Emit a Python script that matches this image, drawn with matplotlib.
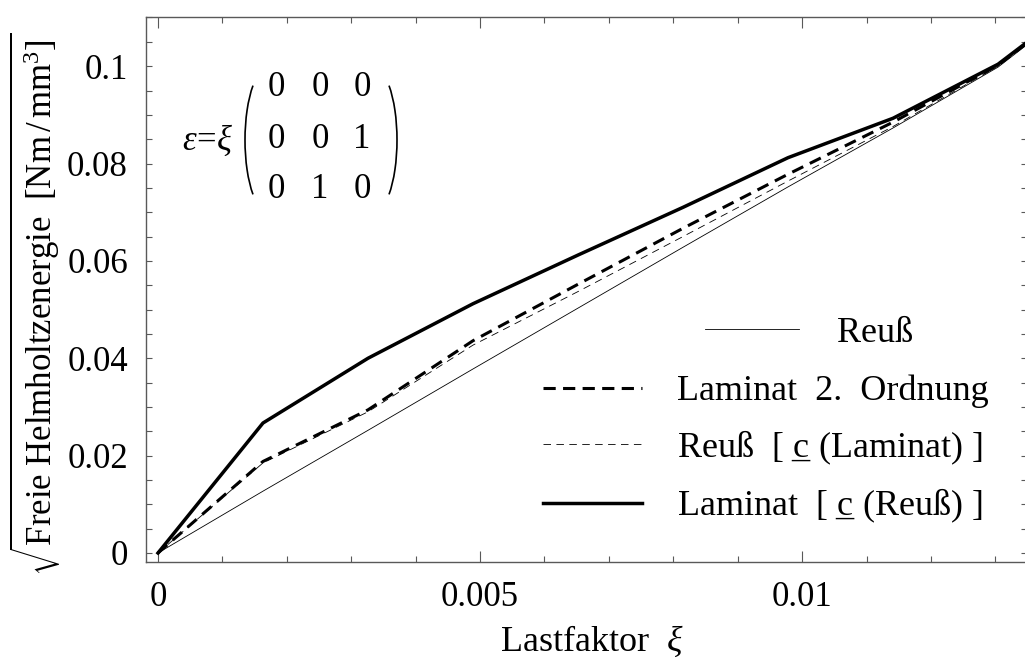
import numpy as np
import matplotlib
matplotlib.use("Agg")
import matplotlib.pyplot as plt
from matplotlib.patches import Arc
from matplotlib.ticker import MultipleLocator

plt.rcParams["font.family"] = ["Liberation Serif", "DejaVu Serif"]
plt.rcParams["mathtext.fontset"] = "custom"
plt.rcParams["mathtext.rm"] = "Liberation Serif"
plt.rcParams["mathtext.it"] = "Liberation Serif:italic"
plt.rcParams["mathtext.bf"] = "Liberation Serif:bold"

# load factor xi and sqrt of free energy
xi = [0, 0.00163, 0.00326, 0.00489, 0.00652, 0.00815, 0.00978, 0.01141, 0.01304, 0.01467]
reuss = [0, 0.0127, 0.0252, 0.0378, 0.0503, 0.0628, 0.0752, 0.0873, 0.0998, 0.1165]
laminat2 = [0, 0.0188, 0.0294, 0.0436, 0.0552, 0.0667, 0.0778, 0.0885, 0.1002, 0.1167]
reuss_c_lam = [0, 0.0185, 0.0290, 0.0427, 0.0537, 0.0650, 0.0764, 0.0876, 0.1000, 0.1166]
laminat_c_reuss = [0, 0.0267, 0.0400, 0.0512, 0.0612, 0.0710, 0.0812, 0.0893, 0.1004, 0.1168]

# underlined c: underscore pulled back under the c
c_ul = r"c$\!\!\!\!$_"
labels = ["Reuß", "Laminat  2.  Ordnung",
          "Reuß  [ " + c_ul + " (Laminat) ]", "Laminat  [ " + c_ul + " (Reuß) ]"]

xticks = [0, 0.005, 0.01]
xticklabels = ["0", "0.005", "0.01"]
yticks = [0, 0.02, 0.04, 0.06, 0.08, 0.1]
yticklabels = ["0", "0.02", "0.04", "0.06", "0.08", "0.1"]

W, H = 1025, 661
fig = plt.figure(figsize=(W / 100, H / 100), dpi=100)
ax = fig.add_axes([146 / W, 99 / H, 881 / W, 545 / H])

l1, = ax.plot(xi, reuss, color="black", lw=0.6)
l2, = ax.plot(xi, laminat2, color="black", lw=2.2, ls=(0, (4, 2.4)))
l3, = ax.plot(xi, reuss_c_lam, color="black", lw=0.6, ls=(0, (9, 6.5)))
l4, = ax.plot(xi, laminat_c_reuss, color="black", lw=2.5)

ax.set_xlim(-0.000186, 0.01349)
ax.set_ylim(-0.00185, 0.1101)

ax.set_xticks(xticks, xticklabels)
ax.set_yticks(yticks, yticklabels)
ax.xaxis.set_minor_locator(MultipleLocator(0.001))
ax.yaxis.set_minor_locator(MultipleLocator(0.005))

ax.tick_params(which="both", direction="in", top=True, right=True,
               color="0.35", width=0.8, labelsize=25)
ax.tick_params(axis="x", which="major", length=8, pad=14)
ax.tick_params(axis="x", which="minor", length=4.5)
ax.tick_params(axis="y", which="both", length=4.5, pad=13)
for s in ax.spines.values():
    s.set_color("0.35")
    s.set_linewidth(1.0)

ax.set_xlabel(r"Lastfaktor  $\xi$", fontsize=26, va="center")
ax.xaxis.set_label_coords(0.506, -0.146)
ax.set_ylabel(r"$\sqrt{\mathrm{Freie\ Helmholtzenergie\ \ [Nm\,/\,mm^3]}}$",
              fontsize=25, va="center")
ax.yaxis.set_label_coords(-0.126, 0.472)

# legend: Reuss entry sits on its own, centred
leg1 = fig.legend([l1], [labels[0]], loc="center left",
                  bbox_to_anchor=(705 / W, 1 - 333 / H), frameon=False,
                  fontsize=26, handlelength=2.6, handletextpad=1.05,
                  borderpad=0, borderaxespad=0)
leg2 = fig.legend([l2, l3, l4], labels[1:], loc="center left",
                  bbox_to_anchor=(543 / W, 1 - 450 / H), frameon=False,
                  fontsize=26, handlelength=2.75, handletextpad=0.95,
                  labelspacing=0.56, borderpad=0, borderaxespad=0)

# strain matrix annotation
fig.text(208 / W, 1 - 140 / H, r"$\varepsilon\!=\!\xi$", fontsize=25,
         ha="center", va="center")
rows = [["0", "0", "0"], ["0", "0", "1"], ["0", "1", "0"]]
row_y = [87, 139, 189]
col_x = [276, 320, 362]
for r, ry in zip(rows, row_y):
    for v, cx in zip(r, col_x):
        fig.text(cx / W, 1 - ry / H, v, fontsize=25, ha="center", va="center")

# parentheses as elliptic arcs (angles converted from parameter to real angle)
a, b = 24, 73
t = np.deg2rad(120)
ang = np.rad2deg(np.arctan2(b * np.sin(t), a * np.cos(t)))
fig.add_artist(Arc((269 / W, 1 - 140 / H), 2 * a / W, 2 * b / H,
                   theta1=ang, theta2=360 - ang, transform=fig.transFigure,
                   color="black", lw=1.2))
fig.add_artist(Arc((373 / W, 1 - 140 / H), 2 * a / W, 2 * b / H,
                   theta1=-(180 - ang), theta2=180 - ang,
                   transform=fig.transFigure, color="black", lw=1.2))

fig.savefig("out.png", dpi=100)
